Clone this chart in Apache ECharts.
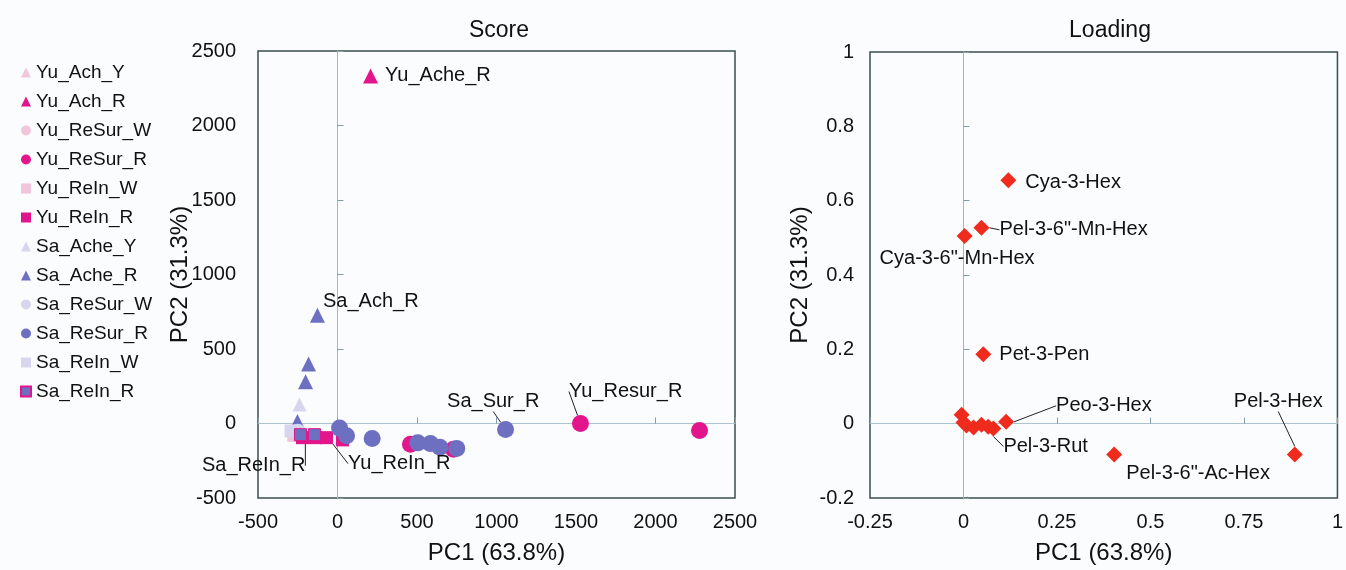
<!DOCTYPE html>
<html>
<head>
<meta charset="UTF-8">
<title>Score / Loading</title>
<style>
  html,body{margin:0;height:100%;width:100%;background:#fbfcfe}
  #chart{width:1346px;height:570px}
</style>
<script src="https://cdn.jsdelivr.net/npm/echarts@6/dist/echarts.min.js"></script>
</head>
<body>
<div id="chart"></div>
<script>
  // ---- Score plot (PC1 / PC2 scores) ----
  var yuAchY   = [[-265, -20]];
  var yuAchR   = [[208, 2333]];
  var yuReSurW = [[-260, -65]];
  var yuReSurR = [[459, -140], [730, -173], [1528, 0], [2277, -47]];
  var yuReInW  = [[-275, -80]];
  var yuReInR  = [[-220, -95], [-140, -95], [-69, -95], [31, -110]];
  var saAcheY  = [[-239, 127]];
  var saAcheR  = [[-126, 727], [-182, 400], [-201, 280], [-252, 13]];
  var saReSurW = [[-250, -55]];
  var saReSurR = [[13, -31], [57, -82], [218, -100], [505, -130], [585, -135], [644, -160], [750, -167], [1057, -40]];
  var saReInW  = [[-292, -50]];
  var saReInR  = [[-233, -75], [-145, -75]];

  // point annotations: [series, index, text]
  var scoreNotes = [
    ['Yu_Ach_R', 0, 'Yu_Ache_R'],
    ['Sa_Ache_R', 0, 'Sa_Ach_R'],
    ['Sa_ReSur_R', 7, 'Sa_Sur_R'],
    ['Yu_ReSur_R', 2, 'Yu_Resur_R'],
    ['Sa_ReIn_R', 0, 'Sa_ReIn_R'],
    ['Yu_ReIn_R', 2, 'Yu_ReIn_R']
  ];
  var scoreXTicks = [-500, 2500, 500];
  var scoreYTicks = [-500, 2500, 500];

  // ---- Loading plot ----
  var loadNames = ['Cya-3-Hex', 'Pel-3-6"-Mn-Hex', 'Cya-3-6"-Mn-Hex', 'Pet-3-Pen', 'Peo-3-Hex',
                   'Pel-3-Rut', 'Pel-3-Hex', 'Pel-3-6"-Ac-Hex', '', '', '', '', '', ''];
  var loadPC1 = [0.12, 0.048, 0.003, 0.053, 0.114, 0.08, 0.886, 0.403, -0.005, 0.0, 0.008, 0.027, 0.048, 0.066];
  var loadPC2 = [0.655, 0.527, 0.505, 0.187, 0.005, -0.013, -0.083, -0.083, 0.024, 0.003, -0.005, -0.01, -0.003, -0.008];
  var loadXTicks = [-0.25, 1, 0.25];
  var loadYTicks = [-0.2, 1, 0.2];

  // label shifts (dx, dy) from the default right-hand position
  var shift = {
    'Yu_Ache_R': [2, 0], 'Sa_Ach_R': [-7, -14], 'Sa_Sur_R': [-72, -28], 'Yu_Resur_R': [-25, -32],
    'Sa_ReIn_R': [-110, 31], 'Yu_ReIn_R': [10, 26],
    'Cya-3-Hex': [4, 2], 'Pel-3-6"-Mn-Hex': [5, 2], 'Cya-3-6"-Mn-Hex': [-98, 23], 'Pet-3-Pen': [3, 0],
    'Peo-3-Hex': [37, -16], 'Pel-3-Rut': [-3, 18], 'Pel-3-Hex': [-74, -53], 'Pel-3-6"-Ac-Hex': [-1, 19]
  };
  var lined = ['Sa_Sur_R', 'Yu_Resur_R', 'Sa_ReIn_R', 'Yu_ReIn_R', 'Pel-3-6"-Mn-Hex', 'Peo-3-Hex', 'Pel-3-Rut', 'Pel-3-Hex'];

  var FONT = 'Liberation Sans, Arial, Helvetica, sans-serif';
  var MAG = '#e2158c', MAG_L = '#efc6dc', BLU = '#6d70c1', BLU_L = '#d6d7ee';

  function note(text) {
    return {
      label: { show: true, formatter: text, position: 'right', distance: 5,
               color: '#111', fontSize: 20, fontFamily: FONT },
      labelLine: { show: lined.indexOf(text) >= 0, length2: 0, smooth: false,
                   lineStyle: { color: '#222', width: 1 } }
    };
  }

  function layoutFn(p) {
    var s = shift[p.text];
    return s ? { dx: s[0], dy: s[1] } : {};
  }

  function scoreSeries(name, pts, symbol, size, color, border) {
    var data = pts.map(function (p, i) {
      var item = { value: p };
      scoreNotes.forEach(function (n) {
        if (n[0] === name && n[1] === i) Object.assign(item, note(n[2]));
      });
      return item;
    });
    return {
      name: name, type: 'scatter', xAxisIndex: 0, yAxisIndex: 0,
      symbol: symbol, symbolSize: size, data: data,
      itemStyle: { color: color, opacity: 1, borderColor: border || color, borderWidth: border ? 1 : 0 },
      labelLayout: layoutFn
    };
  }

  var loadData = loadPC1.map(function (x, i) {
    var item = { value: [x, loadPC2[i]] };
    if (loadNames[i]) Object.assign(item, note(loadNames[i]));
    return item;
  });

  function mainAxis(grid, t, margin, extra) {
    return Object.assign({
      type: 'value', gridIndex: grid, min: t[0], max: t[1], interval: t[2],
      axisLine: { show: false, onZero: false }, axisTick: { show: false }, splitLine: { show: false },
      axisLabel: { color: '#111', fontSize: 20, fontFamily: FONT, margin: margin,
                   formatter: function (v) { return String(v); } },
      nameLocation: 'middle', nameMoveOverlap: false,
      nameTextStyle: { color: '#111', fontSize: 24, fontFamily: FONT }
    }, extra);
  }
  function zeroAxis(grid, t, lineColor) {
    return {
      type: 'value', gridIndex: grid, min: t[0], max: t[1], interval: t[2],
      axisLine: { show: true, onZero: true, lineStyle: { color: lineColor, width: 1 } },
      axisTick: { show: true, length: 6, lineStyle: { color: '#7f9ea8' } },
      axisLabel: { show: false }, splitLine: { show: false }
    };
  }

  var chart = echarts.init(document.getElementById('chart'));
  chart.setOption({
    backgroundColor: '#fbfcfe',
    animation: false,
    title: [
      { text: 'Score', left: 494, top: 14, textAlign: 'center',
        textStyle: { fontSize: 23, fontWeight: 'normal', color: '#111', fontFamily: FONT } },
      { text: 'Loading', left: 1105, top: 14, textAlign: 'center',
        textStyle: { fontSize: 23, fontWeight: 'normal', color: '#111', fontFamily: FONT } }
    ],
    legend: {
      orient: 'vertical', left: 15, top: 58, itemGap: 10, itemWidth: 10, itemHeight: 10,
      selectedMode: false,
      textStyle: { fontSize: 19, color: '#111', fontFamily: FONT },
      data: ['Yu_Ach_Y', 'Yu_Ach_R', 'Yu_ReSur_W', 'Yu_ReSur_R', 'Yu_ReIn_W', 'Yu_ReIn_R',
             'Sa_Ache_Y', 'Sa_Ache_R', 'Sa_ReSur_W', 'Sa_ReSur_R', 'Sa_ReIn_W', 'Sa_ReIn_R']
    },
    grid: [
      { left: 258, top: 51, width: 477, height: 450, show: true, borderColor: '#3c4d4d', borderWidth: 1.5, backgroundColor: 'transparent' },
      { left: 870, top: 52, width: 472, height: 449, show: true, borderColor: '#3c4d4d', borderWidth: 1.5, backgroundColor: 'transparent' }
    ],
    xAxis: [
      mainAxis(0, scoreXTicks, 14, { name: 'PC1 (63.8%)', nameGap: 43 }),
      zeroAxis(0, scoreXTicks, '#a9c4cc'),
      mainAxis(1, loadXTicks, 14, { name: 'PC1 (63.8%)', nameGap: 43 }),
      zeroAxis(1, loadXTicks, '#a9c4cc')
    ],
    yAxis: [
      mainAxis(0, scoreYTicks, 22, { name: 'PC2 (31.3%)', nameGap: 66 }),
      zeroAxis(0, scoreYTicks, '#b4b4b4'),
      mainAxis(1, loadYTicks, 16, { name: 'PC2 (31.3%)', nameGap: 58 }),
      zeroAxis(1, loadYTicks, '#bbaea6')
    ],
    series: [
      scoreSeries('Yu_Ach_Y', yuAchY, 'triangle', 14, MAG_L),
      scoreSeries('Yu_Ach_R', yuAchR, 'triangle', 15, MAG),
      scoreSeries('Yu_ReSur_W', yuReSurW, 'circle', 16, MAG_L),
      scoreSeries('Yu_ReSur_R', yuReSurR, 'circle', 17, MAG),
      scoreSeries('Yu_ReIn_W', yuReInW, 'rect', 13, MAG_L),
      scoreSeries('Yu_ReIn_R', yuReInR, 'rect', 13, MAG),
      scoreSeries('Sa_Ache_Y', saAcheY, 'triangle', 14, BLU_L),
      scoreSeries('Sa_Ache_R', saAcheR, 'triangle', 15, BLU),
      scoreSeries('Sa_ReSur_W', saReSurW, 'circle', 16, BLU_L),
      scoreSeries('Sa_ReSur_R', saReSurR, 'circle', 17, BLU),
      scoreSeries('Sa_ReIn_W', saReInW, 'rect', 13, BLU_L),
      scoreSeries('Sa_ReIn_R', saReInR, 'rect', 12, BLU, MAG),
      {
        name: 'Loading', type: 'scatter', xAxisIndex: 2, yAxisIndex: 2,
        symbol: 'diamond', symbolSize: 16, data: loadData,
        itemStyle: { color: '#ee2b1c', opacity: 1 },
        labelLayout: layoutFn
      }
    ]
  });
</script>
</body>
</html>
